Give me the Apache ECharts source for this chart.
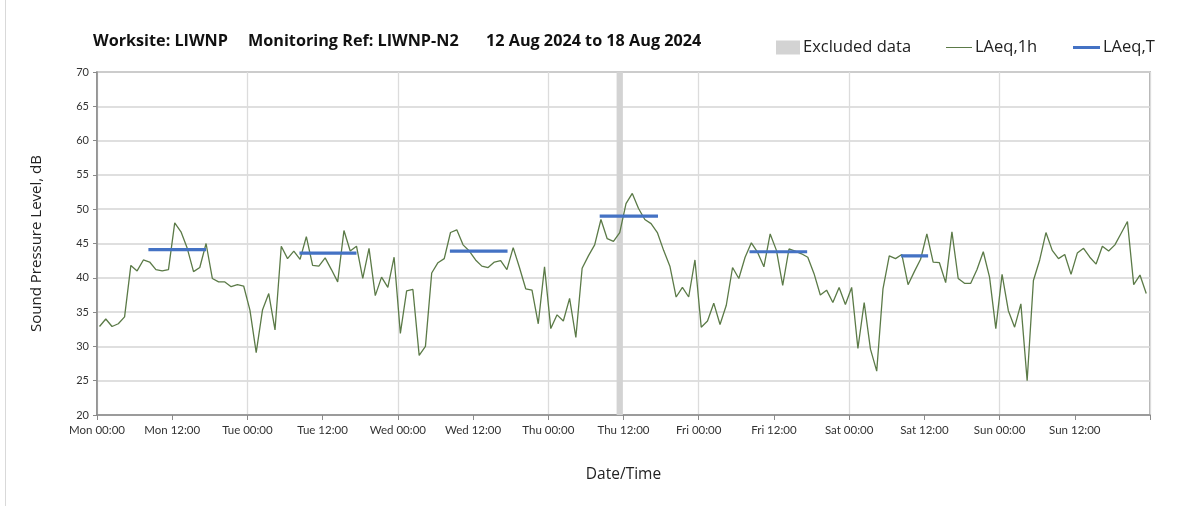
<!DOCTYPE html>
<html><head><meta charset="utf-8">
<script src="https://cdn.jsdelivr.net/npm/echarts@6/dist/echarts.min.js"></script>
<style>html,body{margin:0;padding:0;background:#fff}#c{width:1203px;height:506px}</style>
</head><body><div id="c"></div>
<script>
// Hourly LAeq,1h values, Mon 12 Aug 00:00 onward (168 hours)
const laeq1h = [
 32.9,34.0,32.9,33.3,34.3,41.8,41.0,42.6,42.3,41.2,41.0,41.2,
 48.0,46.7,44.3,40.9,41.5,45.0,39.9,39.4,39.4,38.7,39.0,38.8,
 35.3,29.1,35.3,37.7,32.4,44.6,42.8,43.9,42.7,46.0,41.8,41.7,
 42.9,41.2,39.4,46.9,43.9,44.6,39.9,44.3,37.4,40.1,38.6,43.0,
 31.9,38.1,38.3,28.7,30.0,40.7,42.2,42.8,46.6,47.0,44.8,43.9,
 42.6,41.7,41.5,42.3,42.5,41.2,44.4,41.5,38.4,38.2,33.3,41.6,
 32.6,34.6,33.7,37.0,31.3,41.4,43.2,44.8,48.5,45.7,45.3,46.6,
 50.8,52.3,50.1,48.5,47.9,46.6,44.0,41.7,37.2,38.6,37.2,42.6,
 32.8,33.7,36.3,33.2,36.0,41.5,39.9,43.0,45.1,43.7,41.6,46.4,
 44.0,38.9,44.2,43.9,43.5,43.0,40.6,37.5,38.2,36.4,38.6,36.1,
 38.6,29.7,36.4,29.6,26.4,38.4,43.2,42.8,43.4,39.0,40.9,42.7,
 46.4,42.3,42.2,39.3,46.7,39.9,39.2,39.2,41.2,43.8,40.1,32.6,
 40.5,35.2,32.8,36.2,25.0,39.6,42.6,46.6,44.0,42.8,43.4,40.5,
 43.6,44.3,43.0,42.0,44.6,43.9,44.8,46.5,48.2,39.0,40.4,37.7
];
const pointOffsetHours = 0.4;
// LAeq,T daytime periods: [startHour, endHour, level]
const laeqT = [
 [8.2, 17.4, 44.1],
 [32.3, 41.4, 43.6],
 [56.3, 65.5, 43.9],
 [80.2, 89.5, 49.0],
 [104.1, 113.3, 43.8],
 [128.3, 132.6, 43.2]
];
const excludedRange = [82.9, 83.9];
const dayNames = ['Mon','Tue','Wed','Thu','Fri','Sat','Sun'];
const yTicks = {min:20, max:70, step:5};

const lineData = laeq1h.map((v,i)=>[i+pointOffsetHours, v]);
const tData = [];
laeqT.forEach(p=>{ tData.push([p[0],p[2]]); tData.push([p[1],p[2]]); tData.push([p[1]+0.01,'-']); });

const font = 'Lato, "Open Sans", sans-serif';
const font2 = '"Open Sans", sans-serif';
const tStyle = {fontFamily:font2,fontSize:16.2,fontWeight:'bold',color:'#111'};
const lStyle = {fontFamily:font2,fontSize:16.5,color:'#222',padding:[0,0,0,-2]};
const chart = echarts.init(document.getElementById('c'), null, {renderer:'canvas'});
chart.setOption({
  animation:false,
  backgroundColor:'#fff',
  title:[
    {text:'Worksite: LIWNP', left:93, top:33, padding:0, textStyle:tStyle},
    {text:'Monitoring Ref: LIWNP-N2', left:248, top:33, padding:0, textStyle:tStyle},
    {text:'12 Aug 2024 to 18 Aug 2024', left:486, top:33, padding:0, textStyle:tStyle}
  ],
  legend:[
    {data:['Excluded data'], left:776, top:39, padding:0, icon:'rect', itemWidth:24, itemHeight:14, textStyle:lStyle},
    {data:['LAeq,1h'], left:946, top:39, padding:0, icon:'rect', itemWidth:26, itemHeight:1, textStyle:lStyle},
    {data:['LAeq,T'], left:1073, top:39, padding:0, icon:'rect', itemWidth:27, itemHeight:3, textStyle:lStyle}
  ],
  grid:{left:97, right:53, top:72, bottom:91, show:true, borderColor:'#9a9a9a', borderWidth:1.5},
  xAxis:[
    {type:'value', min:0, max:168, interval:12,
     name:'Date/Time', nameLocation:'middle', nameGap:52,
     nameTextStyle:{fontFamily:font2,fontSize:15.5,color:'#222'},
     axisLine:{show:true,lineStyle:{color:'#8a8a8a',width:1.5}},
     axisTick:{show:true,length:5,lineStyle:{color:'#8a8a8a'}},
     axisLabel:{fontFamily:font,fontSize:11.5,color:'#333',margin:9,
       formatter:v=>{ if(v>=168) return ''; const d=dayNames[Math.floor(v/24)]; return d+(v%24===0?' 00:00':' 12:00'); }},
     splitLine:{show:false}},
    {type:'value', min:0, max:168, interval:24, position:'bottom', show:true,
     axisLine:{show:false}, axisTick:{show:false}, axisLabel:{show:false},
     splitLine:{show:true,lineStyle:{color:'#dcdcdc',width:1.3}}}
  ],
  yAxis:{type:'value', min:yTicks.min, max:yTicks.max, interval:yTicks.step,
    name:'Sound Pressure Level, dB', nameLocation:'middle', nameGap:53,
    nameTextStyle:{fontFamily:font2,fontSize:15,color:'#222'},
    axisLine:{show:true,lineStyle:{color:'#8a8a8a',width:1.5}},
    axisTick:{show:true,length:4,lineStyle:{color:'#8a8a8a'}},
    axisLabel:{fontFamily:font,fontSize:11,color:'#333',margin:8},
    splitLine:{show:true,lineStyle:{color:'#d4d4d4',width:1.5}}},
  series:[
    {name:'Excluded data', type:'line', data:[], color:'#d3d3d3', itemStyle:{color:'#d3d3d3'},
     markArea:{silent:true, itemStyle:{color:'#d3d3d3',opacity:1}, data:[[{xAxis:excludedRange[0]},{xAxis:excludedRange[1]}]]}},
    {name:'LAeq,1h', type:'line', data:lineData, showSymbol:false, symbol:'none', color:'#5b7a47',
     lineStyle:{color:'#5b7a47',width:1.3}, z:3},
    {name:'LAeq,T', type:'line', data:tData, showSymbol:false, symbol:'none', connectNulls:false, color:'#4472c4',
     lineStyle:{color:'#4472c4',width:3.2}, z:4}
  ],
  graphic:[{type:'line', shape:{x1:5.5,y1:0,x2:5.5,y2:506}, style:{stroke:'#d9d9d9',lineWidth:1}}]
});
</script></body></html>
